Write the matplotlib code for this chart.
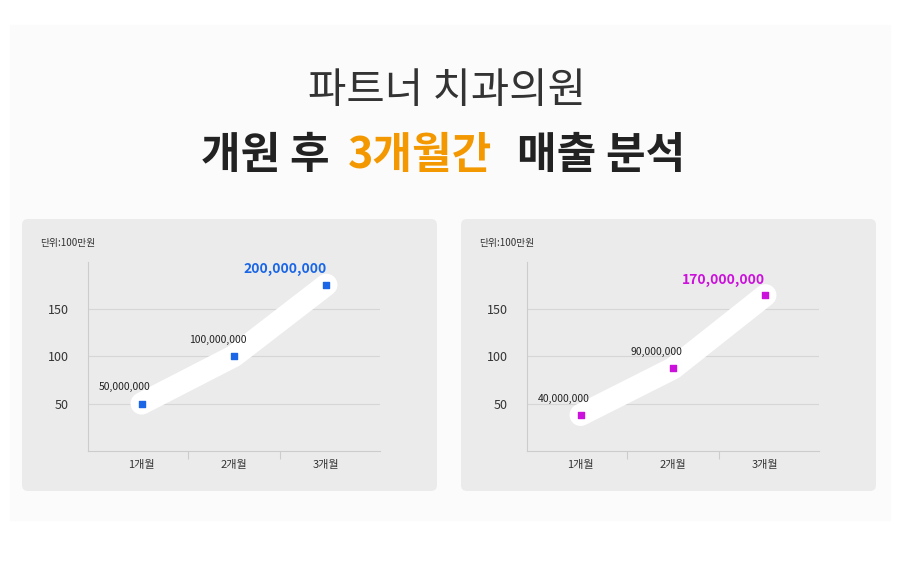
import matplotlib.pyplot as plt
from matplotlib.patches import FancyBboxPatch

plt.rcParams['font.family'] = 'Noto Sans CJK KR'

months = ['1개월', '2개월', '3개월']
left_vals = [50, 100, 175]
left_labels = ['50,000,000', '100,000,000', '200,000,000']
right_vals = [38, 87, 164]
right_labels = ['40,000,000', '90,000,000', '170,000,000']
yticks = [50, 100, 150]

W, H = 900, 570
fig = plt.figure(figsize=(9, 5.7), dpi=100)
fig.patch.set_facecolor('white')

# background layer in pixel coords
bg = fig.add_axes([0, 0, 1, 1])
bg.set_xlim(0, W)
bg.set_ylim(H, 0)
bg.axis('off')
bg.add_patch(plt.Rectangle((10, 25), 880, 495, color='#fbfbfb', zorder=0))
for x0 in (22, 461):
    bg.add_patch(FancyBboxPatch((x0 + 6, 225), 403, 260,
                                boxstyle='round,pad=6', fc='#ebebeb', ec='none'))
    bg.text(x0 + 18, 243, '단위:100만원', fontsize=7, color='#333333', va='center')

bg.text(447, 92, '파트너 치과의원', fontsize=30, ha='center', va='center',
        color='#333333', fontweight='light')
bg.text(330, 155, '개원 후', fontsize=31, ha='right', va='center',
        color='#222222', fontweight='bold')
bg.text(348, 155, '3개월간', fontsize=31, ha='left', va='center',
        color='#f39800', fontweight='bold')
bg.text(517, 155, '매출 분석', fontsize=31, ha='left', va='center',
        color='#222222', fontweight='bold')


def panel(x_axis_left, vals, labels, color):
    # axes spans pixels x_axis_left..x_axis_left+292, y 262..451
    ax = fig.add_axes([x_axis_left / W, 1 - 451 / H, 292 / W, 189 / H])
    ax.set_facecolor('none')
    ax.set_xlim(-0.58, 2.58)
    ax.set_ylim(0, 199)
    xs = range(len(vals))
    ax.plot(xs, vals, color='white', lw=16, solid_capstyle='round',
            solid_joinstyle='round', zorder=2)
    ax.scatter(xs, vals, marker='s', s=22, color=color, zorder=3)
    for i, (v, lab) in enumerate(zip(vals, labels)):
        if i == len(vals) - 1:
            ax.text(i - 0.45, v + 9, lab, fontsize=10, fontweight='bold',
                    color=color, ha='center', va='bottom')
        else:
            ax.text(i - 0.18, v + 12, lab, fontsize=7.5, color='#222222',
                    ha='center', va='bottom')
    ax.set_yticks(yticks)
    ax.set_yticklabels([str(t) for t in yticks], fontsize=9, color='#333333')
    ax.set_xticks([0.5, 1.5])
    ax.set_xticklabels([])
    ax.tick_params(axis='x', length=6, color='#cccccc', direction='out')
    ax.tick_params(axis='y', length=0, pad=14)
    for i, m in enumerate(months):
        ax.text(i, -10, m, fontsize=8, ha='center', va='top', color='#333333')
    ax.grid(axis='y', color='#d6d6d6', lw=0.8)
    for s in ('top', 'right'):
        ax.spines[s].set_visible(False)
    ax.spines['left'].set_color('#cccccc')
    ax.spines['bottom'].set_color('#cccccc')


panel(88, left_vals, left_labels, '#1a66e6')
panel(527, right_vals, right_labels, '#cc11dd')

fig.savefig('out.png', dpi=100)
